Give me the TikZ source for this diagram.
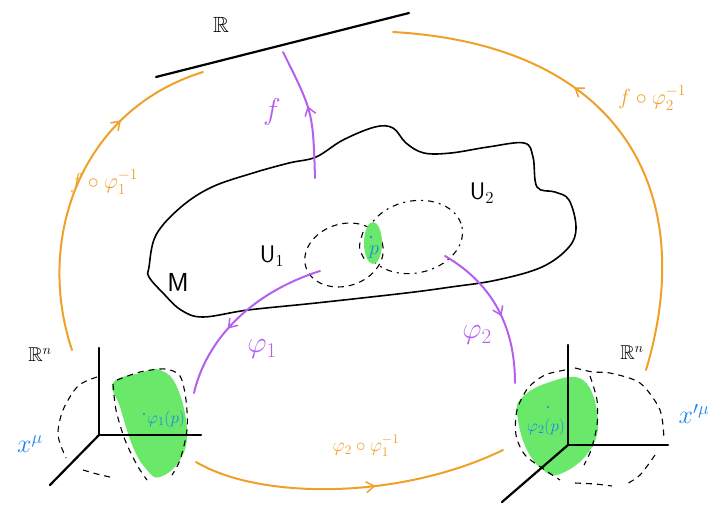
\RequirePackage{fix-cm}
\documentclass[tikz,border=0pt]{standalone}
\usepackage{amsmath, amssymb}
\usetikzlibrary{arrows.meta, decorations.markings}
\definecolor{mapviolet}{RGB}{180, 95,240}
\definecolor{maporange}{RGB}{240,160, 40}
\definecolor{patchgreen}{RGB}{105,232,105}
\definecolor{coordblue}{RGB}{ 30,135,235}
\newcommand{\fsz}[1]{\fontsize{#1}{#1}\selectfont}

\begin{document}
\begin{tikzpicture}[x=1pt, y=-1pt,
  outline/.style={line width=1.6pt, black},
  axis/.style={line width=2.2pt, black, line cap=round},
  chartdash/.style={line width=1.1pt, black, dash pattern=on 6pt off 5pt},
  patch/.style={fill=patchgreen, draw=none},
  midarr/.style={decoration={markings, mark=at position #1 with
    {\arrow{Straight Barb[length=8pt,width=11pt,line width=1.5pt]}}},
    postaction={decorate}},
  viomap/.style={line width=2pt, mapviolet, line cap=round},
  ormap/.style={line width=2pt, maporange, line cap=round},
  vlbl/.style={text=mapviolet, font=\fsz{30}},
  olbl/.style={text=maporange, font=\fsz{22}},
  blbl/.style={text=coordblue},
]
\useasboundingbox (0,0) rectangle (708,506);
%% Real line
\coordinate (rA) at (156,77);
\coordinate (rB) at (409,13);
\draw[line width=2.2pt, line cap=round] (rA) -- (rB);
\node[font=\fsz{22}] (lblR) at (221,25) {$\mathbb{R}$};
%% Manifold M
\draw[outline] plot[smooth cycle, tension=0.6] coordinates {
  (149,267) (156,235) (181,207) (212,187) (253,173) (289,163) (316,157)
  (343,140) (375,127) (393,128) (406,143) (424,153) (451,153) (488,147)
  (524,143) (533,157) (537,187) (555,192) (569,200) (576,227) (569,247)
  (542,267) (497,280) (451,287) (406,293) (316,303) (248,310) (203,317)
  (181,310) (163,293) (149,277)};
\node[font=\fsz{26}] (lblM) at (178,282) {\textsf{M}};
%% Chart domains
\draw[chartdash, dash pattern=on 2pt off 5pt on 6pt off 5pt, rotate around={12:(414,237)}]
  (414,237) ellipse [x radius=49, y radius=36];
\draw[chartdash, rotate around={18:(344,255)}]
  (344,255) ellipse [x radius=40, y radius=31];
\fill[patch] (373,243) ellipse [x radius=9, y radius=21];
\draw[chartdash] (363,232) .. controls (358,248) .. (366,262);
\fill[coordblue] (371,237) circle (1.3pt);
\node[blbl, font=\fsz{20}] (lblp) at (374,252) {$p$};
\node[font=\fsz{24}] (lblUa) at (272,256) {\textsf{U}$_1$};
\node[font=\fsz{24}] (lblUb) at (482,193) {\textsf{U}$_2$};
%% Left chart
\fill[patch] plot[smooth cycle, tension=0.7] coordinates {
  (113,383) (140,373) (160,370) (177,387) (187,430) (180,460) (160,477)
  (147,470) (133,447) (120,407)};
\draw[chartdash] plot[smooth] coordinates {(97,377) (78,386) (63,410) (58,435) (66,458)};
\draw[chartdash] plot[smooth] coordinates {(83,470) (97,474) (110,477)};
\draw[chartdash] plot[smooth] coordinates {(113,384) (116,410) (125,440) (137,465) (147,480)};
\draw[chartdash] plot[smooth] coordinates {(117,380) (140,372) (165,369) (180,376) (186,400) (187,430) (180,460) (172,475)};
\coordinate (oA) at (99,435);
\draw[axis] (oA) -- (99,348);
\draw[axis] (oA) -- (201,435);
\draw[axis] (oA) -- (50,485);
\fill[coordblue] (144,414) circle (1.2pt);
\node[blbl, font=\fsz{17}] (lblqa) at (166,419) {$\varphi_1(p)$};
\node[blbl, font=\fsz{26}] (lblxa) at (30,444) {$x^\mu$};
\node[font=\fsz{20}] (lblRa) at (40,355) {$\mathbb{R}^n$};
%% Right chart
\fill[patch] plot[smooth cycle, tension=0.7] coordinates {
  (520,400) (547,383) (583,380) (598,420) (588,453) (560,474) (543,470)
  (527,450) (518,420)};
\draw[chartdash] plot[smooth] coordinates {(565,370) (545,375) (528,388) (517,410) (516,435) (525,455) (545,470) (560,480)};
\draw[chartdash] plot[smooth] coordinates {(575,368) (593,372) (610,373) (640,383) (660,410) (664,440)};
\draw[chartdash] plot[smooth] coordinates {(655,455) (640,475) (625,485)};
\draw[chartdash] plot[smooth] coordinates {(575,483) (595,484) (612,486)};
\draw[chartdash] plot[smooth] coordinates {(590,376) (597,400) (597,425) (591,450) (584,465)};
\coordinate (oB) at (568,445);
\draw[axis] (oB) -- (568,345);
\draw[axis] (oB) -- (668,445);
\draw[axis] (oB) -- (502,502);
\fill[coordblue] (548,407) circle (1.2pt);
\node[blbl, font=\fsz{17}] (lblqb) at (546,427) {$\varphi_2(p)$};
\node[blbl, font=\fsz{26}] (lblxb) at (694,414) {$x'^\mu$};
\node[font=\fsz{20}] (lblRb) at (632,353) {$\mathbb{R}^n$};
%% Violet maps
\coordinate (fA) at (315,178);
\coordinate (fB) at (283,52);
\draw[viomap, midarr=0.55] (fA) .. controls (313,112) .. (fB);
\node[vlbl] (lblf) at (272,112) {$f$};
\coordinate (pA) at (320,271);
\coordinate (pB) at (194,393);
\draw[viomap, midarr=0.6] (pA) .. controls (245,295) and (205,345) .. (pB);
\node[vlbl] (lblpa) at (262,349) {$\varphi_1$};
\coordinate (qA) at (445,256);
\coordinate (qB) at (515,383);
\draw[viomap, midarr=0.55] (qA) .. controls (495,285) and (515,330) .. (qB);
\node[vlbl] (lblpb) at (477,335) {$\varphi_2$};
%% Orange transition maps
\coordinate (gA) at (72,350);
\coordinate (gB) at (203,72);
\draw[ormap, midarr=0.72] (gA) .. controls (35,240) and (80,110) .. (gB);
\node[olbl] (lblga) at (104,182) {$f\circ\varphi_1^{-1}$};
\coordinate (hA) at (646,370);
\coordinate (hB) at (393,32);
\draw[ormap, midarr=0.62] (hA) .. controls (700,190) and (620,45) .. (hB);
\node[olbl] (lblgb) at (652,98) {$f\circ\varphi_2^{-1}$};
\coordinate (tA) at (196,462);
\coordinate (tB) at (503,450);
\draw[ormap, midarr=0.58] (tA) .. controls (260,500) and (400,500) .. (tB);
\node[olbl, font=\fsz{19}] (lbltr) at (366,446) {$\varphi_2\circ\varphi_1^{-1}$};
\end{tikzpicture}
\end{document}
